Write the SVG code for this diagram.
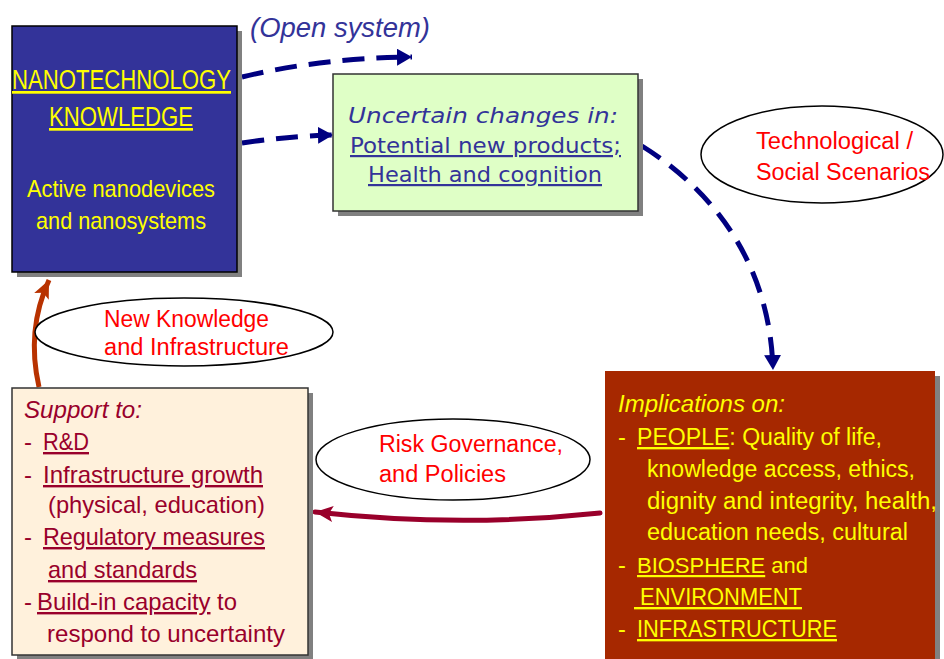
<svg xmlns="http://www.w3.org/2000/svg" width="944" height="659" viewBox="0 0 944 659">
<defs>
<style>
.s{font-family:"Liberation Sans",Arial,sans-serif}
.n{font-family:"Liberation Sans Narrow","Liberation Sans",Arial,sans-serif}
.v{font-family:"DejaVu Sans",Verdana,sans-serif}
.u{text-decoration:underline}
.i{font-style:italic}
.y{fill:#FFFF00}
.r{fill:#FF0000}
.m{fill:#99002B}
.b{fill:#333399}
.shadow{fill:#808080}
.ell{fill:#FFFFFF;stroke:#000000;stroke-width:1.5}
.nav{fill:none;stroke:#000080;stroke-width:5;stroke-dasharray:22 12}
</style>
<marker id="navyHead" viewBox="0 0 15 17" refX="15" refY="8.5" markerWidth="15" markerHeight="17" orient="auto" markerUnits="userSpaceOnUse"><path d="M0,0 L15,8.5 L0,17 z" fill="#000080"/></marker>
<marker id="orangeHead" viewBox="0 0 18 16" refX="18" refY="8" markerWidth="18" markerHeight="16" orient="auto" markerUnits="userSpaceOnUse"><path d="M0,0 L18,8 L0,16 L4,8 z" fill="#B83200"/></marker>
<marker id="redHead" viewBox="0 0 18 16" refX="18" refY="8" markerWidth="18" markerHeight="16" orient="auto" markerUnits="userSpaceOnUse"><path d="M0,0 L18,8 L0,16 L4,8 z" fill="#99002B"/></marker>
</defs>
<rect width="944" height="659" fill="#FFFFFF"/>

<g id="connectors">
<path class="nav" d="M242,77 Q320,58 412,57" marker-end="url(#navyHead)"/>
<path class="nav" d="M242,143 Q290,136 333,135" marker-end="url(#navyHead)"/>
<path class="nav" d="M642,146 C712,190 770,262 773,370" marker-end="url(#navyHead)"/>
<path d="M39,387 Q26,330 49,280" fill="none" stroke="#B83200" stroke-width="5" marker-end="url(#orangeHead)"/>
<path d="M600,513 Q460,528 315,512" fill="none" stroke="#99002B" stroke-width="5" stroke-linecap="round" marker-end="url(#redHead)"/>
<text class="s i b" x="250" y="37" font-size="27" textLength="180" lengthAdjust="spacingAndGlyphs">(Open system)</text>
</g>

<g id="nanotech">
<rect class="shadow" x="17" y="31" width="225" height="246"/>
<rect x="12" y="26" width="225" height="246" fill="#333399" stroke="#000000" stroke-width="1.5"/>
<text class="n y u" x="12" y="89" font-size="27" textLength="219" lengthAdjust="spacingAndGlyphs">NANOTECHNOLOGY</text>
<text class="n y u" x="49" y="126" font-size="27" textLength="144" lengthAdjust="spacingAndGlyphs">KNOWLEDGE</text>
<text class="n y" x="27" y="197" font-size="24" textLength="188" lengthAdjust="spacingAndGlyphs">Active nanodevices</text>
<text class="n y" x="36" y="229" font-size="24" textLength="170" lengthAdjust="spacingAndGlyphs">and nanosystems</text>
</g>

<g id="uncertain">
<rect class="shadow" x="338" y="79" width="305" height="137"/>
<rect x="333" y="74" width="305" height="137" fill="#DFFFC6" stroke="#333333" stroke-width="1.5"/>
<text class="v i b" x="348" y="123" font-size="22" textLength="270" lengthAdjust="spacingAndGlyphs">Uncertain changes in:</text>
<text class="v b u" x="350" y="153" font-size="22" textLength="271" lengthAdjust="spacingAndGlyphs">Potential new products;</text>
<text class="v b u" x="368" y="182" font-size="22" textLength="234" lengthAdjust="spacingAndGlyphs">Health and cognition</text>
</g>

<g id="scenarios">
<ellipse class="ell" cx="822" cy="154.5" rx="121" ry="48.5"/>
<text class="s r" x="756" y="149" font-size="23" textLength="157" lengthAdjust="spacingAndGlyphs">Technological /</text>
<text class="s r" x="756" y="180" font-size="23" textLength="174" lengthAdjust="spacingAndGlyphs">Social Scenarios</text>
</g>

<g id="newknowledge">
<ellipse class="ell" cx="184" cy="332" rx="149" ry="34"/>
<text class="s r" x="104" y="327" font-size="23" textLength="165" lengthAdjust="spacingAndGlyphs">New Knowledge</text>
<text class="s r" x="104" y="355" font-size="23" textLength="185" lengthAdjust="spacingAndGlyphs">and Infrastructure</text>
</g>

<g id="risk">
<ellipse class="ell" cx="453" cy="459.5" rx="137" ry="40.5"/>
<text class="s r" x="379" y="452" font-size="23" textLength="184" lengthAdjust="spacingAndGlyphs">Risk Governance,</text>
<text class="s r" x="379" y="482" font-size="23" textLength="127" lengthAdjust="spacingAndGlyphs">and Policies</text>
</g>

<g id="support">
<rect class="shadow" x="17" y="393" width="296" height="267"/>
<rect x="12" y="388" width="296" height="267" fill="#FFF1DC" stroke="#333333" stroke-width="1.5"/>
<text class="s i m" x="24" y="418" font-size="24" textLength="118" lengthAdjust="spacingAndGlyphs">Support to:</text>
<text class="s m" x="24" y="450" font-size="24">-</text>
<text class="s m u" x="43" y="450" font-size="24" textLength="46" lengthAdjust="spacingAndGlyphs">R&amp;D</text>
<text class="s m" x="24" y="483" font-size="24">-</text>
<text class="s m u" x="43" y="483" font-size="24" textLength="220" lengthAdjust="spacingAndGlyphs">Infrastructure growth</text>
<text class="s m" x="48" y="513" font-size="24" textLength="217" lengthAdjust="spacingAndGlyphs">(physical, education)</text>
<text class="s m" x="24" y="545" font-size="24">-</text>
<text class="s m u" x="43" y="545" font-size="24" textLength="222" lengthAdjust="spacingAndGlyphs">Regulatory measures</text>
<text class="s m u" x="48" y="578" font-size="24" textLength="149" lengthAdjust="spacingAndGlyphs">and standards</text>
<text class="s m" x="24" y="610" font-size="24">-</text>
<text class="s m" x="37" y="610" font-size="24" textLength="200" lengthAdjust="spacingAndGlyphs"><tspan class="u">Build-in capacity</tspan> to</text>
<text class="s m" x="47" y="642" font-size="24" textLength="238" lengthAdjust="spacingAndGlyphs">respond to uncertainty</text>
</g>

<g id="implications">
<rect class="shadow" x="610" y="376" width="330" height="300"/>
<rect x="605" y="371" width="330" height="300" fill="#A62800"/>
<text class="s i y" x="618" y="412" font-size="23.5" textLength="167" lengthAdjust="spacingAndGlyphs">Implications on:</text>
<text class="s y" x="618" y="445" font-size="23.5">-</text>
<text class="s y" x="637" y="445" font-size="23.5" textLength="245" lengthAdjust="spacingAndGlyphs"><tspan class="u">PEOPLE</tspan>: Quality of life,</text>
<text class="s y" x="647" y="477" font-size="23.5" textLength="268" lengthAdjust="spacingAndGlyphs">knowledge access, ethics,</text>
<text class="s y" x="647" y="509" font-size="23.5" textLength="290" lengthAdjust="spacingAndGlyphs">dignity and integrity, health,</text>
<text class="s y" x="647" y="540" font-size="23.5" textLength="261" lengthAdjust="spacingAndGlyphs">education needs, cultural</text>
<text class="s y" x="618" y="573" font-size="23.5">-</text>
<text class="s y" x="637" y="573" font-size="22" textLength="171" lengthAdjust="spacingAndGlyphs"><tspan class="u">BIOSPHERE</tspan> and</text>
<text class="s y u" x="634" y="605" font-size="23.5" textLength="168" lengthAdjust="spacingAndGlyphs" style="white-space:pre"> ENVIRONMENT</text>
<text class="s y" x="618" y="637" font-size="23.5">-</text>
<text class="s y u" x="637" y="637" font-size="23.5" textLength="200" lengthAdjust="spacingAndGlyphs">INFRASTRUCTURE</text>
</g>
</svg>
